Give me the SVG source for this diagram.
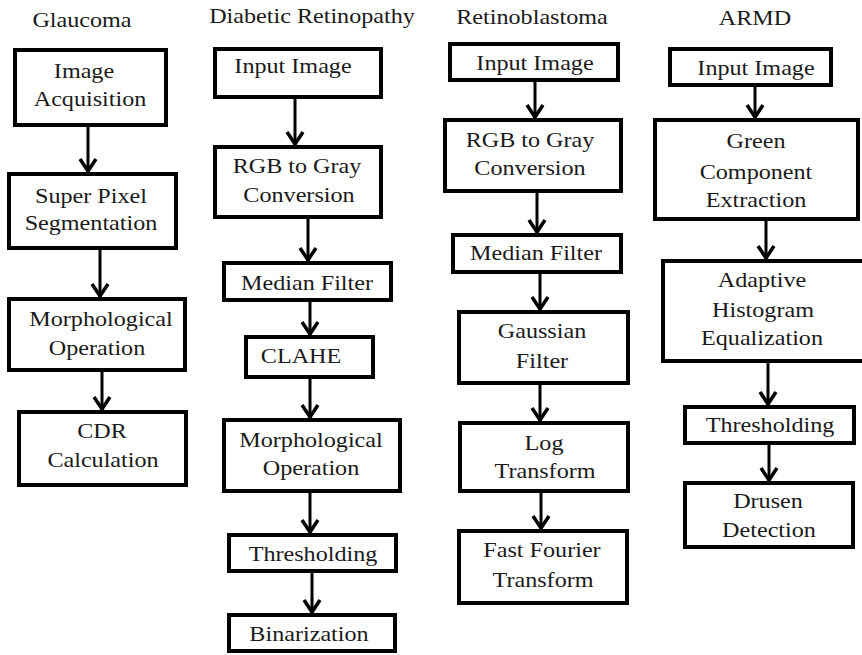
<svg xmlns="http://www.w3.org/2000/svg" width="862" height="655" viewBox="0 0 862 655">
  <style>
    .box { fill: #ffffff; stroke: #000000; stroke-width: 4; }
    .t { font-family: "Liberation Serif", "Times New Roman", serif; font-size: 21px; fill: #1a1a1a; text-anchor: middle; }
    .c { stroke: #000000; stroke-width: 3; fill: none; marker-end: url(#arrow); }
  </style>
  <defs>
    <marker id="arrow" markerUnits="userSpaceOnUse" viewBox="-16 -11 19 22" markerWidth="19" markerHeight="22" refX="0" refY="0" orient="auto">
      <path d="M-13,-8 L-1,0 L-13,8" fill="none" stroke="#000000" stroke-width="3.5" stroke-linejoin="miter"/>
    </marker>
  </defs>

  <rect x="0" y="0" width="862" height="655" fill="#ffffff"/>

  <!-- column titles -->
  <g id="titles">
    <text class="t" transform="translate(82 27) scale(1.15 1)">Glaucoma</text>
    <text class="t" transform="translate(312 23) scale(1.15 1)">Diabetic Retinopathy</text>
    <text class="t" transform="translate(532 24) scale(1.15 1)">Retinoblastoma</text>
    <text class="t" transform="translate(755 25) scale(1.15 1)">ARMD</text>
  </g>

  <!-- connectors -->
  <g id="connectors">
    <line class="c" x1="88" y1="127" x2="88" y2="172"/>
    <line class="c" x1="100" y1="250" x2="100" y2="297"/>
    <line class="c" x1="102" y1="372" x2="102" y2="410"/>

    <line class="c" x1="295" y1="99" x2="295" y2="145"/>
    <line class="c" x1="308" y1="219" x2="308" y2="261"/>
    <line class="c" x1="310" y1="302" x2="310" y2="335"/>
    <line class="c" x1="310" y1="379" x2="310" y2="418"/>
    <line class="c" x1="310" y1="493" x2="310" y2="533"/>
    <line class="c" x1="312" y1="573" x2="312" y2="613"/>

    <line class="c" x1="535" y1="82" x2="535" y2="118"/>
    <line class="c" x1="537" y1="193" x2="537" y2="233"/>
    <line class="c" x1="540" y1="274" x2="540" y2="310"/>
    <line class="c" x1="540" y1="385" x2="540" y2="421"/>
    <line class="c" x1="541" y1="493" x2="541" y2="529"/>

    <line class="c" x1="755" y1="87" x2="755" y2="118"/>
    <line class="c" x1="766" y1="221" x2="766" y2="259"/>
    <line class="c" x1="768" y1="363" x2="768" y2="405"/>
    <line class="c" x1="769" y1="445" x2="769" y2="481"/>
  </g>

  <!-- Glaucoma -->
  <g id="g-acquisition">
    <rect class="box" x="15" y="50" width="151" height="75"/>
    <text class="t" transform="translate(84 78) scale(1.15 1)">Image</text>
    <text class="t" transform="translate(90 106) scale(1.15 1)">Acquisition</text>
  </g>
  <g id="g-superpixel">
    <rect class="box" x="9" y="174" width="167" height="74"/>
    <text class="t" transform="translate(91 203) scale(1.15 1)">Super Pixel</text>
    <text class="t" transform="translate(91 230) scale(1.15 1)">Segmentation</text>
  </g>
  <g id="g-morph">
    <rect class="box" x="9" y="299" width="176" height="71"/>
    <text class="t" transform="translate(101 326) scale(1.15 1)">Morphological</text>
    <text class="t" transform="translate(97 355) scale(1.15 1)">Operation</text>
  </g>
  <g id="g-cdr">
    <rect class="box" x="19" y="412" width="167" height="73"/>
    <text class="t" transform="translate(102 438) scale(1.15 1)">CDR</text>
    <text class="t" transform="translate(103 467) scale(1.15 1)">Calculation</text>
  </g>

  <!-- Diabetic Retinopathy -->
  <g id="dr-input">
    <rect class="box" x="215" y="49" width="166" height="48"/>
    <text class="t" transform="translate(293 73) scale(1.15 1)">Input Image</text>
  </g>
  <g id="dr-gray">
    <rect class="box" x="215" y="147" width="166" height="70"/>
    <text class="t" transform="translate(297 173) scale(1.15 1)">RGB to Gray</text>
    <text class="t" transform="translate(299 202) scale(1.15 1)">Conversion</text>
  </g>
  <g id="dr-median">
    <rect class="box" x="224" y="263" width="167" height="37"/>
    <text class="t" transform="translate(307 290) scale(1.15 1)">Median Filter</text>
  </g>
  <g id="dr-clahe">
    <rect class="box" x="246" y="337" width="127" height="40"/>
    <text class="t" transform="translate(301 363) scale(1.15 1)">CLAHE</text>
  </g>
  <g id="dr-morph">
    <rect class="box" x="224" y="420" width="176" height="71"/>
    <text class="t" transform="translate(311 447) scale(1.15 1)">Morphological</text>
    <text class="t" transform="translate(311 475) scale(1.15 1)">Operation</text>
  </g>
  <g id="dr-threshold">
    <rect class="box" x="229" y="535" width="167" height="36"/>
    <text class="t" transform="translate(313 561) scale(1.15 1)">Thresholding</text>
  </g>
  <g id="dr-binarization">
    <rect class="box" x="229" y="615" width="166" height="36"/>
    <text class="t" transform="translate(309 641) scale(1.15 1)">Binarization</text>
  </g>

  <!-- Retinoblastoma -->
  <g id="rb-input">
    <rect class="box" x="450" y="44" width="168" height="36"/>
    <text class="t" transform="translate(535 70) scale(1.15 1)">Input Image</text>
  </g>
  <g id="rb-gray">
    <rect class="box" x="445" y="120" width="176" height="71"/>
    <text class="t" transform="translate(530 147) scale(1.15 1)">RGB to Gray</text>
    <text class="t" transform="translate(530 175) scale(1.15 1)">Conversion</text>
  </g>
  <g id="rb-median">
    <rect class="box" x="453" y="235" width="168" height="37"/>
    <text class="t" transform="translate(536 260) scale(1.15 1)">Median Filter</text>
  </g>
  <g id="rb-gaussian">
    <rect class="box" x="459" y="312" width="169" height="71"/>
    <text class="t" transform="translate(542 338) scale(1.15 1)">Gaussian</text>
    <text class="t" transform="translate(542 368) scale(1.15 1)">Filter</text>
  </g>
  <g id="rb-log">
    <rect class="box" x="460" y="423" width="168" height="68"/>
    <text class="t" transform="translate(544 450) scale(1.15 1)">Log</text>
    <text class="t" transform="translate(545 478) scale(1.15 1)">Transform</text>
  </g>
  <g id="rb-fft">
    <rect class="box" x="459" y="531" width="168" height="72"/>
    <text class="t" transform="translate(542 557) scale(1.15 1)">Fast Fourier</text>
    <text class="t" transform="translate(543 587) scale(1.15 1)">Transform</text>
  </g>

  <!-- ARMD -->
  <g id="armd-input">
    <rect class="box" x="670" y="49" width="161" height="36"/>
    <text class="t" transform="translate(756 75) scale(1.15 1)">Input Image</text>
  </g>
  <g id="armd-green">
    <rect class="box" x="655" y="120" width="203" height="99"/>
    <text class="t" transform="translate(756 148) scale(1.15 1)">Green</text>
    <text class="t" transform="translate(756 179) scale(1.15 1)">Component</text>
    <text class="t" transform="translate(756 207) scale(1.15 1)">Extraction</text>
  </g>
  <g id="armd-ahe">
    <rect class="box" x="663" y="261" width="205" height="100"/>
    <text class="t" transform="translate(762 287) scale(1.15 1)">Adaptive</text>
    <text class="t" transform="translate(763 317) scale(1.15 1)">Histogram</text>
    <text class="t" transform="translate(762 345) scale(1.15 1)">Equalization</text>
  </g>
  <g id="armd-threshold">
    <rect class="box" x="685" y="407" width="169" height="36"/>
    <text class="t" transform="translate(770 432) scale(1.15 1)">Thresholding</text>
  </g>
  <g id="armd-drusen">
    <rect class="box" x="685" y="483" width="168" height="64"/>
    <text class="t" transform="translate(768 508) scale(1.15 1)">Drusen</text>
    <text class="t" transform="translate(769 537) scale(1.15 1)">Detection</text>
  </g>
</svg>
